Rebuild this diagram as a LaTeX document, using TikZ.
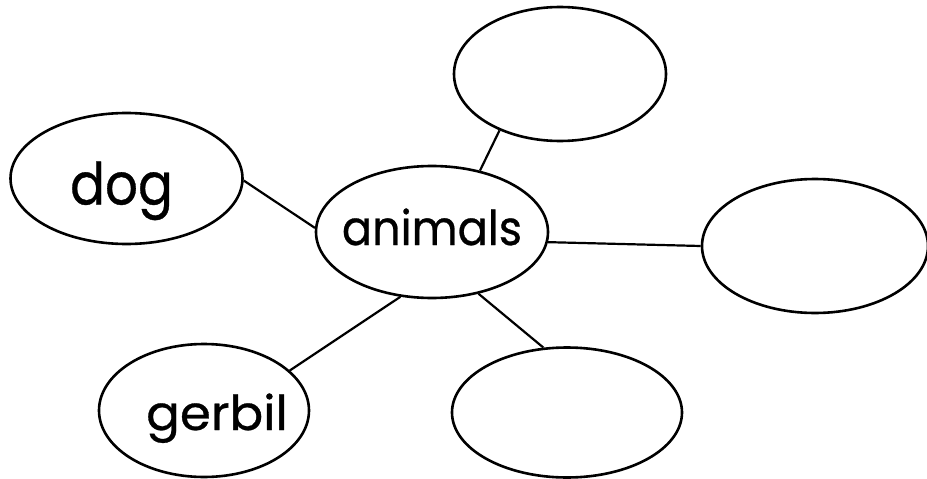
\documentclass[tikz,border=0pt]{standalone}
\usepackage{fontspec}
\usepackage{graphicx}
\setmainfont{Poppins}[FakeBold=0.6]
\usetikzlibrary{shapes.geometric}
\newcommand{\wordin}[5]{\makebox[0pt]{\kern#4pt\smash{\raisebox{-#5pt}{\fontsize{#1}{#1}\selectfont\scalebox{#2}[1]{#3}}}}}
\begin{document}
\begin{tikzpicture}[x=1pt,y=-1pt,
  bubble/.style={draw=black,line width=2.6pt,ellipse,inner sep=0pt},
  link/.style={draw=black,line width=2.2pt}]
\useasboundingbox (0,0) rectangle (927,479);
\node[bubble,minimum width=232pt,minimum height=131pt] (dog) at (126.5,178.5) {\wordin{58}{0.89}{dog}{-10}{26}};
\node[bubble,minimum width=212pt,minimum height=134pt] (top) at (560,74) {};
\node[bubble,minimum width=232pt,minimum height=132pt] (animals) at (432,232) {\wordin{48}{0.93}{animals}{0}{13}};
\node[bubble,minimum width=226pt,minimum height=134pt] (right) at (815,246) {};
\node[bubble,minimum width=210pt,minimum height=133pt] (gerbil) at (204,410.5) {\wordin{48}{1.04}{gerbil}{26}{19.5}};
\node[bubble,minimum width=230pt,minimum height=130pt] (bottom) at (567,412.5) {};
\draw[link] (dog.-1.7) -- (animals.178);
\draw[link] (animals.52.5) -- (top.223.2);
\draw[link] (animals.-5.5) -- (right.180.5);
\draw[link] (animals.244.5) -- (gerbil.25.9);
\draw[link] (animals.-53.4) -- (bottom.110.4);
\end{tikzpicture}
\end{document}
